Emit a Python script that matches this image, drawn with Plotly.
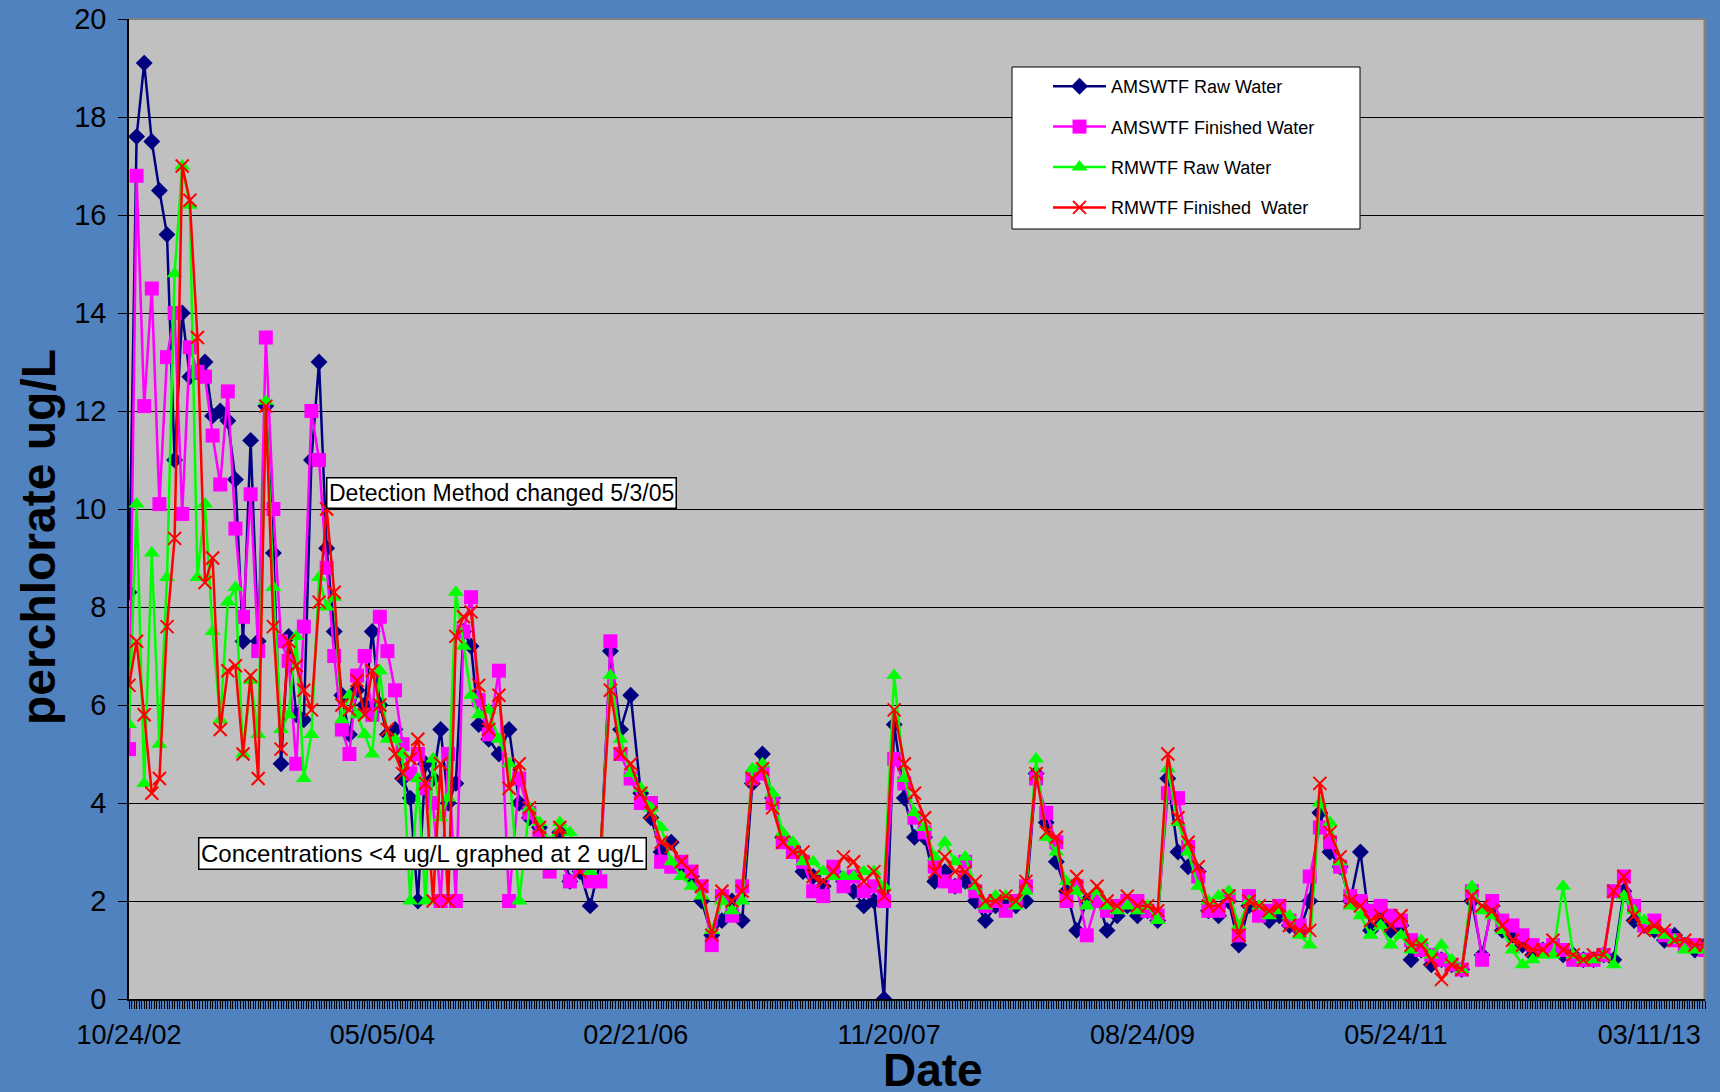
import plotly.graph_objects as go

# ---------------- data ----------------
# sample numbers along the category axis (one tick per sample in the original)
sample_no = list(range(0, 139, 3)) + list(range(142, 623, 4))

label_samples = [0, 100, 200, 300, 400, 500, 600]
date_labels = ["10/24/02", "05/05/04", "02/21/06", "11/20/07", "08/24/09", "05/24/11", "03/11/13"]

amswtf_raw = [
    8.3, 17.6, 19.1, 17.5, 16.5, 15.6, 11.0, 14.0, 12.7, 12.8,
    13.0, 11.9, 12.0, 11.8, 10.6, 7.3, 11.4, 7.3, 12.1, 9.1,
    4.8, 7.4, 5.8, 5.7, 11.0, 13.0, 9.2, 7.5, 6.2, 5.4,
    6.3, 6.0, 7.5, 6.0, 5.4, 5.5, 4.5, 4.1, 2.0, 4.8,
    4.5, 5.5, 4.0, 4.4, 7.5, 7.2, 5.6,
    5.3, 5.0, 5.5, 4.0, 3.7, 3.5, 2.7, 3.4, 2.4, 2.6,
    1.9, 2.8, 7.1, 5.5, 6.2, 4.2, 3.7, 3.0, 3.2, 2.7,
    2.5, 2.0, 1.3, 1.6, 2.0, 1.6, 4.4, 5.0, 4.1, 3.3,
    3.1, 2.6, 2.5, 2.3, 2.6, 2.4, 2.2, 1.9, 2.0, 0.0,
    5.6, 4.1, 3.3, 3.3, 2.4, 2.6, 2.3, 2.4, 2.0, 1.6,
    1.9, 2.0, 1.9, 2.0, 4.6, 3.6, 2.8, 2.2, 1.4, 2.0,
    2.1, 1.4, 1.7, 1.9, 1.7, 1.8, 1.6, 4.5, 3.0, 2.7,
    2.6, 1.8, 1.7, 2.0, 1.1, 1.9, 1.8, 1.6, 1.7, 1.5,
    1.4, 2.0, 3.8, 3.0, 2.7, 2.0, 3.0, 1.4, 1.7, 1.4,
    1.5, 0.8, 1.0, 0.7, 0.8, 0.7, 0.6, 2.0, 0.9, 1.9,
    1.4, 1.3, 1.1, 0.9, 1.0, 1.0, 0.9, 0.9, 0.8, 0.8,
    0.9, 0.8, 2.2, 1.6, 1.5, 1.4, 1.2, 1.3, 1.1, 1.0,
    1.1,
]

amswtf_finished = [
    5.1, 16.8, 12.1, 14.5, 10.1, 13.1, 14.0, 9.9, 13.3, 12.8,
    12.7, 11.5, 10.5, 12.4, 9.6, 7.8, 10.3, 7.1, 13.5, 10.0,
    7.3, 6.9, 4.8, 7.6, 12.0, 11.0, 8.8, 7.0, 5.5, 5.0,
    6.6, 7.0, 5.8, 7.8, 7.1, 6.3, 5.2, 4.6, 5.0, 4.3,
    4.0, 2.0, 5.0, 2.0, 7.5, 8.2, 6.1,
    5.4, 6.7, 2.0, 4.5, 3.8, 3.3, 2.6, 2.9, 2.4, 2.7,
    2.4, 2.4, 7.3, 5.0, 4.5, 4.0, 4.0, 2.8, 2.7, 2.8,
    2.6, 2.3, 1.1, 2.1, 1.7, 2.3, 4.5, 4.6, 4.0, 3.2,
    3.0, 2.8, 2.2, 2.1, 2.7, 2.3, 2.5, 2.2, 2.3, 2.0,
    4.9, 4.4, 3.7, 3.4, 2.7, 2.4, 2.3, 2.8, 2.2, 1.9,
    2.0, 1.8, 2.0, 2.3, 4.5, 3.8, 3.2, 2.0, 2.3, 1.3,
    2.0, 1.8, 1.9, 2.0, 2.0, 1.8, 1.7, 4.2, 4.1, 3.1,
    2.5, 1.8, 1.8, 2.1, 1.3, 2.1, 1.7, 1.8, 1.9, 1.6,
    1.5, 2.5, 3.5, 3.2, 2.7, 2.1, 2.0, 1.8, 1.9, 1.7,
    1.6, 1.2, 1.0, 0.9, 0.8, 0.7, 0.6, 2.2, 0.8, 2.0,
    1.6, 1.5, 1.3, 1.1, 1.0, 1.1, 1.0, 0.8, 0.8, 0.8,
    0.9, 2.2, 2.5, 1.9, 1.5, 1.6, 1.3, 1.2, 1.1, 1.1,
    1.0,
]

rmwtf_raw = [
    5.6, 10.1, 4.4, 9.1, 5.2, 8.6, 14.8, 17.0, 16.2, 8.6,
    10.1, 7.5, 5.7, 8.1, 8.4, 5.0, 6.5, 5.4, 12.2, 8.4,
    5.5, 5.8, 7.4, 4.5, 5.4, 8.6, 8.0, 8.2, 5.7, 6.2,
    5.8, 5.4, 5.0, 6.7, 5.3, 5.3, 5.0, 2.0, 4.5, 2.0,
    4.9, 3.7, 4.1, 8.3, 7.2, 6.2, 5.8,
    5.9, 5.3, 4.8, 2.0, 3.9, 3.6, 3.2, 3.6, 3.4, 2.8,
    2.6, 2.9, 6.6, 5.3, 4.6, 4.3, 3.9, 3.5, 2.8, 2.5,
    2.3, 2.1, 1.4, 2.0, 1.8, 2.0, 4.7, 4.8, 4.2, 3.4,
    3.2, 2.8, 2.8, 2.6, 2.5, 2.5, 2.5, 2.6, 2.6, 2.3,
    6.6, 4.5, 3.8, 3.5, 2.9, 3.2, 2.8, 2.9, 2.3, 1.9,
    2.1, 2.1, 1.9, 2.2, 4.9, 3.3, 3.0, 2.4, 2.2, 1.9,
    2.2, 1.9, 1.8, 1.9, 1.8, 1.9, 1.6, 4.7, 3.6, 3.0,
    2.3, 2.0, 2.1, 2.2, 1.5, 2.0, 1.9, 1.7, 1.8, 1.7,
    1.3, 1.1, 4.0, 3.6, 2.8, 1.9, 1.7, 1.3, 1.5, 1.1,
    1.3, 1.0, 1.2, 0.9, 1.1, 0.8, 0.6, 2.3, 1.8, 1.7,
    1.4, 1.0, 0.7, 0.8, 0.9, 0.9, 2.3, 0.9, 0.8, 0.8,
    0.9, 0.7, 2.1, 1.8, 1.6, 1.4, 1.3, 1.2, 1.0, 1.0,
    1.0,
]

rmwtf_finished = [
    6.4, 7.3, 5.8, 4.2, 4.5, 7.6, 9.4, 17.0, 16.3, 13.5,
    8.5, 9.0, 5.5, 6.7, 6.8, 5.0, 6.6, 4.5, 12.1, 7.6,
    5.1, 7.3, 6.8, 6.3, 5.9, 8.1, 10.0, 8.3, 6.0, 5.9,
    6.5, 5.8, 6.7, 6.0, 5.5, 5.0, 4.6, 4.9, 5.3, 4.4,
    2.0, 4.8, 2.0, 7.4, 7.8, 7.9, 6.4,
    5.5, 6.2, 4.3, 4.8, 3.9, 3.5, 3.0, 3.5, 2.9, 2.6,
    2.8, 3.0, 6.3, 5.0, 4.8, 4.2, 3.8, 3.2, 3.1, 2.8,
    2.6, 2.3, 1.3, 2.2, 2.0, 2.2, 4.5, 4.7, 3.9, 3.2,
    3.0, 3.0, 2.5, 2.4, 2.6, 2.9, 2.8, 2.4, 2.6, 2.1,
    5.9, 4.8, 4.2, 3.7, 2.6, 2.9, 2.6, 2.6, 2.4, 2.0,
    2.0, 2.1, 2.0, 2.4, 4.6, 3.4, 3.3, 2.1, 2.5, 2.1,
    2.3, 2.0, 1.9, 2.1, 1.9, 1.9, 1.8, 5.0, 3.7, 3.2,
    2.7, 1.9, 1.9, 2.1, 1.3, 2.0, 1.9, 1.8, 1.9, 1.5,
    1.4, 1.4, 4.4, 3.4, 2.9, 2.0, 1.9, 1.6, 1.7, 1.5,
    1.7, 1.1, 1.1, 0.8, 0.4, 0.7, 0.6, 2.1, 1.9, 1.8,
    1.5, 1.2, 1.1, 1.0, 1.0, 1.2, 1.0, 0.9, 0.8, 0.9,
    0.9, 2.2, 2.5, 1.7, 1.4, 1.5, 1.4, 1.2, 1.2, 1.1,
    1.1,
]

series_names = ["AMSWTF Raw Water", "AMSWTF Finished Water", "RMWTF Raw Water", "RMWTF Finished  Water"]

# ---------------- styling ----------------
FONT = "Arial, Liberation Sans, sans-serif"
W, H = 1720, 1092
L, R, T, B = 129, 15, 19, 93
PW, PH = W - L - R, H - T - B


def px_x(px):
    return (px - L) / PW


def px_y(py):
    return (H - B - py) / PH


styles = [
    dict(color="#000080", symbol="diamond", size=13),
    dict(color="#FF00FF", symbol="square", size=14),
    dict(color="#00FF00", symbol="triangle-up", size=14),
    dict(color="#FF0000", symbol="x-thin", size=13),
]

fig = go.Figure()
for name, vals, st in zip(series_names,
                          [amswtf_raw, amswtf_finished, rmwtf_raw, rmwtf_finished],
                          styles):
    marker = dict(color=st["color"], symbol=st["symbol"], size=st["size"])
    if st["symbol"] == "x-thin":
        marker["line"] = dict(color=st["color"], width=2)
    fig.add_trace(go.Scatter(
        x=sample_no, y=vals, name=name, mode="lines+markers",
        line=dict(color=st["color"], width=2.5),
        marker=marker, legendgroup=name,
    ))

fig.update_layout(
    width=W, height=H,
    margin=dict(l=L, r=R, t=T, b=B, autoexpand=False),
    paper_bgcolor="#4F82BF",
    plot_bgcolor="#C0C0C0",
    font=dict(family=FONT, color="black"),
    showlegend=True,
    legend=dict(
        x=px_x(1048), y=px_y(68), xanchor="left", yanchor="top",
        bgcolor="rgba(0,0,0,0)", borderwidth=0,
        font=dict(size=18, family=FONT, color="black"),
        tracegroupgap=14, itemwidth=53,
    ),
    xaxis=dict(
        range=[0, 622], tickmode="array", tickvals=label_samples, ticktext=date_labels,
        ticks="outside", ticklen=8, tickcolor="black", tickwidth=1,
        minor=dict(dtick=1, tick0=0, ticks="outside", ticklen=8, tickcolor="black", tickwidth=1, showgrid=False),
        showgrid=False, zeroline=False, showline=True, linecolor="black", linewidth=1.5,
        tickfont=dict(size=27, family=FONT, color="black"),
        ticklabelstandoff=3, automargin=False,
    ),
    yaxis=dict(
        range=[0, 20], dtick=2, tick0=0,
        ticks="outside", ticklen=9, tickcolor="black", tickwidth=1,
        showgrid=True, gridcolor="black", gridwidth=1,
        zeroline=False, showline=True, linecolor="black", linewidth=1.5,
        tickfont=dict(size=29, family=FONT, color="black"),
        ticklabelstandoff=6, automargin=False,
    ),
)

# plot-area frame (grey top / right edges) and legend box
fig.add_shape(type="line", xref="paper", yref="paper", x0=0, x1=1, y0=1, y1=1,
              line=dict(color="#808080", width=2))
fig.add_shape(type="line", xref="paper", yref="paper", x0=1, x1=1, y0=0, y1=1,
              line=dict(color="#808080", width=3))
fig.add_shape(type="rect", xref="paper", yref="paper",
              x0=px_x(1012), x1=px_x(1360), y0=px_y(229), y1=px_y(67),
              line=dict(color="black", width=1), fillcolor="white", layer="above")

# axis titles
fig.add_annotation(text="<b>perchlorate ug/L</b>", xref="paper", yref="paper",
                   x=px_x(38), y=px_y(537), xanchor="center", yanchor="middle",
                   textangle=-90, showarrow=False, font=dict(size=48, family=FONT, color="black"))
fig.add_annotation(text="<b>Date</b>", xref="paper", yref="paper",
                   x=px_x(933), y=px_y(1070), xanchor="center", yanchor="middle",
                   showarrow=False, font=dict(size=46, family=FONT, color="black"))

# text boxes
fig.add_annotation(text="Detection Method changed 5/3/05", xref="paper", yref="paper",
                   x=px_x(326), y=px_y(477), xanchor="left", yanchor="top",
                   showarrow=False, bgcolor="white", bordercolor="black", borderwidth=1.5,
                   borderpad=1.5, font=dict(size=23, family=FONT, color="black"))
fig.add_annotation(text="Concentrations <4 ug/L graphed at 2 ug/L", xref="paper", yref="paper",
                   x=px_x(198), y=px_y(837), xanchor="left", yanchor="top",
                   showarrow=False, bgcolor="white", bordercolor="black", borderwidth=1.5,
                   borderpad=1.5, font=dict(size=24, family=FONT, color="black"))

fig.write_html(
    "out.html",
    config={"displayModeBar": False},
    post_script="document.body.style.margin='0';document.body.style.overflow='hidden';",
)
